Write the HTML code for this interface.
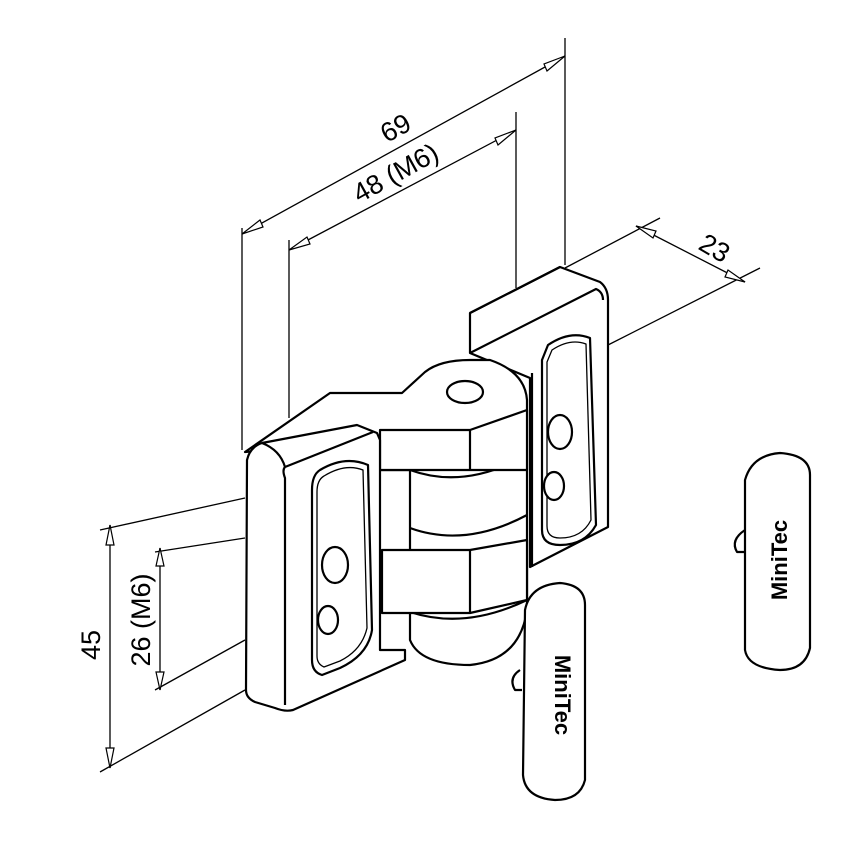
<!DOCTYPE html>
<html><head><meta charset="utf-8"><style>
html,body{margin:0;padding:0;background:#fff}
svg{display:block}
text{font-family:"Liberation Sans",sans-serif;fill:#000}
</style></head><body>
<svg width="850" height="850" viewBox="0 0 850 850" xmlns="http://www.w3.org/2000/svg">
<g fill="none" stroke="#000" stroke-width="1.3">
<line x1="242" y1="228" x2="242" y2="450"/>
<line x1="289" y1="240" x2="289" y2="418"/>
<line x1="516" y1="112" x2="516" y2="288"/>
<line x1="565" y1="38" x2="565" y2="265"/>
<line x1="242" y1="234" x2="565" y2="56"/>
<line x1="289" y1="250" x2="516" y2="130"/>
<line x1="565" y1="268" x2="660" y2="218"/>
<line x1="608" y1="345" x2="760" y2="268"/>
<line x1="636" y1="226" x2="745" y2="282"/>
<line x1="245" y1="498" x2="100" y2="530"/>
<line x1="245" y1="690" x2="100" y2="772"/>
<line x1="110" y1="525" x2="110" y2="768"/>
<line x1="245" y1="538" x2="155" y2="552"/>
<line x1="245" y1="640" x2="155" y2="690"/>
<line x1="160" y1="548" x2="160" y2="690"/>
</g>
<g fill="#fff" stroke="#000" stroke-width="1.2">
<polygon points="242,234 260,220 263,227"/>
<polygon points="565,56 544,64 547,71"/>
<polygon points="289,250 307,237 310,244"/>
<polygon points="516,130 495,138 498,145"/>
<polygon points="636,226 656,231 653,238"/>
<polygon points="745,282 725,277 728,270"/>
<polygon points="110,525 106,545 114,545"/>
<polygon points="110,768 106,748 114,748"/>
<polygon points="160,548 156,566 164,566"/>
<polygon points="160,690 156,672 164,672"/>
</g>
<g font-size="27">
<text x="400" y="136" transform="rotate(-29 400 136)" text-anchor="middle">69</text>
<text x="400" y="181" transform="rotate(-29 400 181)" text-anchor="middle">48 (M6)</text>
<text x="710" y="256" transform="rotate(30 710 256)" text-anchor="middle">23</text>
<text x="100" y="645" transform="rotate(-90 100 645)" text-anchor="middle">45</text>
<text x="150" y="620" transform="rotate(-90 150 620)" text-anchor="middle">26 (M6)</text>
</g>
<g fill="#fff" stroke="#000" stroke-width="2.2" stroke-linejoin="round">
<!-- right plate -->
<path d="M470,353 L470,313 L560,267 L600,282 Q608,288 608,300 L608,527 L530,567 L530,378 Z"/>
<path d="M470,353 L596,289 Q603,292 603,300"/>
<path d="M470,313 L560,267"/>
<path d="M532,373 L532,567"/>
<path d="M548,345 Q570,330 590,338 L596,525 Q585,545 560,545 Q542,545 542,530 L542,360 Z"/>
<path d="M552,350 Q570,338 586,344 L591,520 Q582,538 560,538 Q547,538 547,526 L547,362 Z" stroke-width="1.3"/>
<ellipse cx="560" cy="432" rx="12" ry="17"/>
<ellipse cx="554" cy="486" rx="10" ry="14"/>
<!-- left leaf top -->
<path d="M245,452 L330,393 L402,393 L425,372 Q440,360 470,360 L490,360 Q525,372 527,400 L527,610 Q520,660 470,665 Q420,665 410,640 L410,470 L380,470 L380,440 Z"/>
<ellipse cx="465" cy="392" rx="18" ry="11"/>
<path d="M410,470 Q465,490 527,455"/>
<path d="M410,528 Q465,548 527,515"/>
<path d="M410,612 Q465,630 527,600"/>
<path d="M380,430 L470,430 L527,410 L527,470 L470,470 L380,470 Z"/>
<line x1="470" y1="430" x2="470" y2="470"/>
<path d="M382,550 L470,550 L527,540 L527,600 L470,613 L382,613 Z"/>
<line x1="470" y1="550" x2="470" y2="613"/>
<!-- left plate -->
<path d="M247,460 Q250,447 262,443 L357,425 L377,433 L380,440 L380,650 L405,650 L405,660 L293,710 Q285,712 275,708 L255,702 Q246,698 246,690 Z"/>
<path d="M285,467 L373,432"/>
<path d="M285,467 Q282,470 285,478 L285,705"/>
<path d="M262,443 Q280,450 285,467"/>
<path d="M320,470 Q345,455 368,465 L372,630 Q368,655 340,668 L322,675 Q312,672 312,660 L312,490 Q312,475 320,470 Z"/>
<path d="M324,476 Q345,463 363,470 L367,628 Q362,650 340,661 L324,667 Q317,664 317,656 L317,492 Q317,480 324,476 Z" stroke-width="1.3"/>
<ellipse cx="335" cy="565" rx="13" ry="18"/>
<ellipse cx="328" cy="620" rx="10" ry="14"/>
<!-- token pins -->
<path d="M520,670 Q508,678 515,690 L522,690"/>
<path d="M745,530 Q730,540 737,552 L745,552"/>
<!-- tokens -->
<path d="M525,610 Q530,585 560,583 Q585,585 585,605 L585,780 Q580,800 555,800 Q525,798 523,775 Z"/>
<path d="M745,480 Q752,455 780,453 Q810,455 810,475 L810,648 Q805,670 780,670 Q748,668 745,650 Z"/>
</g>
<g font-size="22" font-weight="bold">
<text x="555" y="695" transform="rotate(90 555 695)" text-anchor="middle">MiniTec</text>
<text x="787" y="560" transform="rotate(-90 787 560)" text-anchor="middle">MiniTec</text>
</g>
</svg>
</body></html>
